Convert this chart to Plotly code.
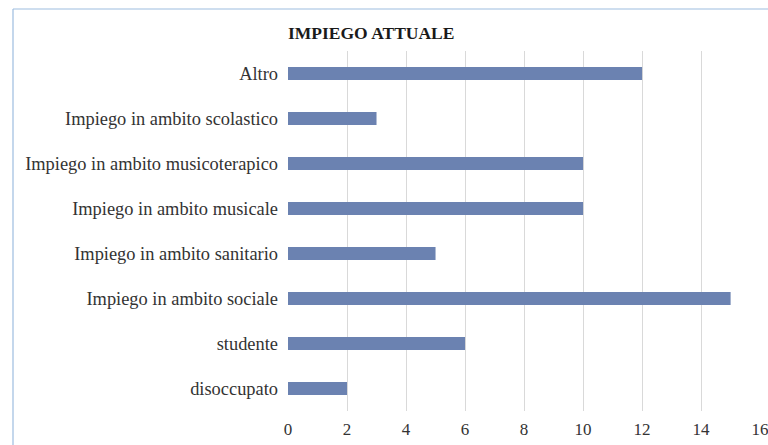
import plotly.graph_objects as go

categories = ["disoccupato", "studente", "Impiego in ambito sociale", "Impiego in ambito sanitario",
              "Impiego in ambito musicale", "Impiego in ambito musicoterapico",
              "Impiego in ambito scolastico", "Altro"]
values = [2, 6, 15, 5, 10, 10, 3, 12]
x_ticks = [0, 2, 4, 6, 8, 10, 12, 14, 16]

W, H = 768, 445
L, R, T, B = 288, 7, 51, 34
pw, ph = W - L - R, H - T - B

fig = go.Figure(go.Bar(
    x=values, y=categories, orientation="h",
    marker=dict(color="#6b82b1", line=dict(width=0)),
    width=0.29,
))

font_family = "Liberation Serif"

fig.update_layout(
    width=W, height=H,
    margin=dict(l=L, r=R, t=T, b=B, autoexpand=False),
    paper_bgcolor="white", plot_bgcolor="white",
    font=dict(family=font_family, size=18, color="#333333"),
    showlegend=False,
    modebar=dict(bgcolor="rgba(0,0,0,0)", color="rgba(0,0,0,0)", activecolor="rgba(0,0,0,0)"),
    xaxis=dict(range=[0, 16.03], tickvals=x_ticks, showgrid=True, gridcolor="#d9d9d9",
               gridwidth=1, zeroline=False, showline=False, ticks="", fixedrange=True,
               automargin=False, ticklabeloverflow="allow", ticklabelstandoff=6,
               tickfont=dict(size=17)),
    yaxis=dict(categoryorder="array", categoryarray=categories, showgrid=False,
               zeroline=False, showline=False, ticks="", ticklabelstandoff=9,
               automargin=False, tickfont=dict(size=18.4)),
    annotations=[dict(text="<b>IMPIEGO ATTUALE</b>", xref="paper", yref="paper",
                      x=0, y=(H - B - 33) / ph, xanchor="left", yanchor="middle",
                      xshift=-2, showarrow=False,
                      font=dict(size=17.5, color="#1a1a1a", family=font_family))],
    shapes=[
        dict(type="line", xref="paper", yref="paper",
             x0=(13 - L) / pw, x1=(W + 5 - L) / pw,
             y0=(H - B - 9) / ph, y1=(H - B - 9) / ph,
             line=dict(color="#9dbde0", width=1.2)),
        dict(type="line", xref="paper", yref="paper",
             x0=(13 - L) / pw, x1=(13 - L) / pw,
             y0=(H - B - 9) / ph, y1=(-B - 5) / ph,
             line=dict(color="#9dbde0", width=1.2)),
    ],
)

# remove the default page margin so the 768x445 figure fills the window exactly
fig.write_html("out.html",
               config={"displayModeBar": False},
               post_script="document.body.style.margin='0';"
                           "document.documentElement.style.overflow='hidden';")
